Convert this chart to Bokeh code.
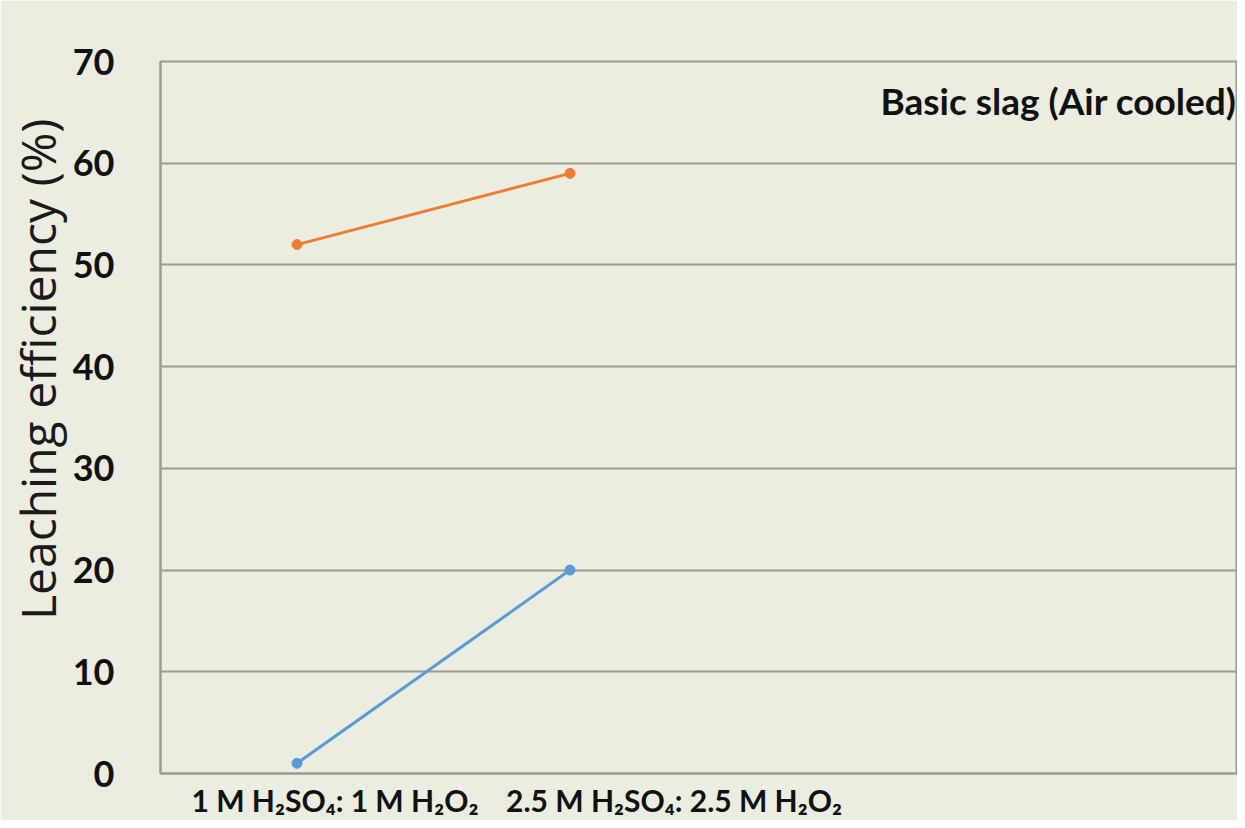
from bokeh.plotting import figure
from bokeh.models import Range1d, FixedTicker, Label, Title
from bokeh.embed import file_html
from bokeh.resources import INLINE

categories = ["1 M H₂SO₄: 1 M H₂O₂", "2.5 M H₂SO₄: 2.5 M H₂O₂"]
series_orange = [52, 59]
series_blue = [1, 20]
y_ticks = [0, 10, 20, 30, 40, 50, 60, 70]

xs = [i + 0.5 for i in range(len(categories))]
# tick-label centres sit a little right of the points, as in the original
label_shift = [0.139, 0.381]
label_pos = [round(x + s, 3) for x, s in zip(xs, label_shift)]

BG = "#eaeddf"
GRID = "#9c9c90"

p = figure(width=1237, height=820, output_backend="svg", toolbar_location=None,
           x_range=Range1d(0, 3.945), y_range=Range1d(0, 70),
           min_border_left=160, min_border_top=61, min_border_bottom=47, min_border_right=0)
p.background_fill_color = BG
p.border_fill_color = BG
p.outline_line_color = GRID
p.outline_line_width = 2

p.line(xs, series_blue, line_color="#5b9bd5", line_width=3)
p.scatter(xs, series_blue, size=10, fill_color="#5b9bd5", line_color="#5b9bd5")
p.line(xs, series_orange, line_color="#ed7d31", line_width=3)
p.scatter(xs, series_orange, size=10, fill_color="#ed7d31", line_color="#ed7d31")

p.xgrid.grid_line_color = None
p.ygrid.ticker = FixedTicker(ticks=y_ticks)
p.ygrid.grid_line_color = GRID
p.ygrid.grid_line_width = 2

p.yaxis.ticker = FixedTicker(ticks=y_ticks)
p.yaxis.major_label_text_font = "Lato"
p.yaxis.major_label_text_font_style = "bold"
p.yaxis.major_label_text_font_size = "36px"
p.yaxis.major_label_text_color = "#111111"
p.yaxis.major_label_standoff = 40
p.yaxis.major_tick_line_color = None
p.yaxis.minor_tick_line_color = None
p.yaxis.axis_line_color = GRID
p.yaxis.axis_line_width = 2

p.xaxis.ticker = FixedTicker(ticks=label_pos)
p.xaxis.major_label_overrides = {x: c for x, c in zip(label_pos, categories)}
p.xaxis.major_label_text_font = "Lato"
p.xaxis.major_label_text_font_style = "bold"
p.xaxis.major_label_text_font_size = "30px"
p.xaxis.major_label_text_color = "#111111"
p.xaxis.major_label_standoff = 2
p.xaxis.major_tick_line_color = None
p.xaxis.minor_tick_line_color = None
p.xaxis.axis_line_color = GRID
p.xaxis.axis_line_width = 2

ytitle = Title(text="Leaching efficiency (%)", text_font="Open Sans", text_font_style="normal",
               text_font_size="48px", text_color="#1a1a1a", align="right", offset=57,
               standoff=0)
p.add_layout(ytitle, "left")

p.add_layout(Label(x=2.637, y=66.2, text="Basic slag (Air cooled)", text_font="Lato",
                   text_font_style="bold", text_font_size="37px", text_color="#111111",
                   text_baseline="middle", text_align="left"))

open("out.html", "w").write(file_html(p, INLINE))
